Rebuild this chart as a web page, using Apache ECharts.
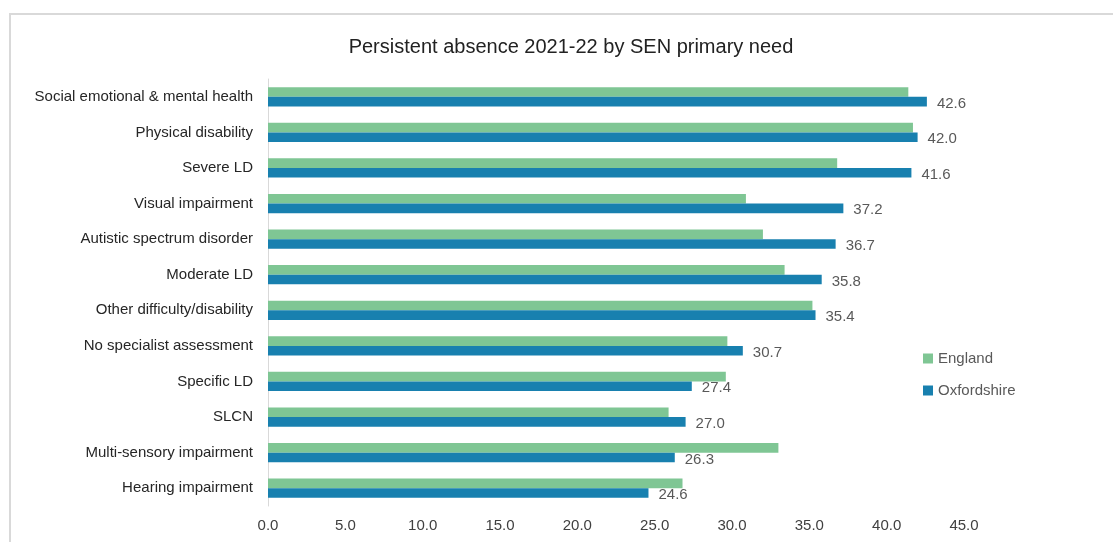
<!DOCTYPE html>
<html>
<head>
<meta charset="utf-8">
<script src="https://cdn.jsdelivr.net/npm/echarts@6/dist/echarts.min.js"></script>
<style>
html,body{margin:0;padding:0;background:#fff;}
#chart{width:1113px;height:542px;}
</style>
</head>
<body>
<div id="chart"></div>
<script>
const categories = [
  "Social emotional & mental health",
  "Physical disability",
  "Severe LD",
  "Visual impairment",
  "Autistic spectrum disorder",
  "Moderate LD",
  "Other difficulty/disability",
  "No specialist assessment",
  "Specific LD",
  "SLCN",
  "Multi-sensory impairment",
  "Hearing impairment"
];
const england = [41.4, 41.7, 36.8, 30.9, 32.0, 33.4, 35.2, 29.7, 29.6, 25.9, 33.0, 26.8];
const oxfordshire = [42.6, 42.0, 41.6, 37.2, 36.7, 35.8, 35.4, 30.7, 27.4, 27.0, 26.3, 24.6];
const xTicks = [0, 5, 10, 15, 20, 25, 30, 35, 40, 45];

const chart = echarts.init(document.getElementById('chart'), null, {renderer: 'canvas'});
const font = 'Liberation Sans, Arial, sans-serif';
chart.setOption({
  animation: false,
  backgroundColor: '#fff',
  textStyle: {fontFamily: font},
  graphic: [{
    type: 'rect',
    shape: {x: 10, y: 14, width: 1200, height: 600},
    style: {fill: 'none', stroke: '#d9d9d9', lineWidth: 2},
    silent: true
  }],
  title: {
    text: 'Persistent absence 2021-22 by SEN primary need',
    left: 566, top: 32, textAlign: 'center',
    textStyle: {fontFamily: font, fontSize: 20, fontWeight: 'normal', color: '#222'}
  },
  legend: {
    orient: 'vertical',
    left: 918, top: 346,
    itemWidth: 10, itemHeight: 10, itemGap: 17,
    icon: 'rect',
    textStyle: {fontFamily: font, fontSize: 15, color: '#595959'},
    data: ['England', 'Oxfordshire']
  },
  grid: {left: 268, right: 149, top: 79, bottom: 36, containLabel: false},
  xAxis: {
    type: 'value',
    min: xTicks[0], max: xTicks[xTicks.length - 1], interval: 5,
    axisLine: {show: false},
    axisTick: {show: false},
    splitLine: {show: false},
    axisLabel: {
      formatter: v => v.toFixed(1),
      fontFamily: font, fontSize: 15, color: '#404040', margin: 12
    }
  },
  yAxis: {
    type: 'category',
    inverse: true,
    data: categories,
    axisLine: {show: true, lineStyle: {color: '#d9d9d9', width: 1}},
    axisTick: {show: false},
    axisLabel: {fontFamily: font, fontSize: 15, color: '#262626', margin: 15}
  },
  series: [
    {
      name: 'England', type: 'bar', data: england,
      itemStyle: {color: '#7fc694'},
      barGap: '0%', barCategoryGap: '46%'
    },
    {
      name: 'Oxfordshire', type: 'bar', data: oxfordshire,
      itemStyle: {color: '#1880af'},
      barGap: '0%', barCategoryGap: '46%',
      label: {
        show: true, position: 'right', distance: 10,
        formatter: p => p.value.toFixed(1),
        fontFamily: font, fontSize: 15, color: '#595959', offset: [0, 2]
      }
    }
  ]
});
</script>
</body>
</html>
